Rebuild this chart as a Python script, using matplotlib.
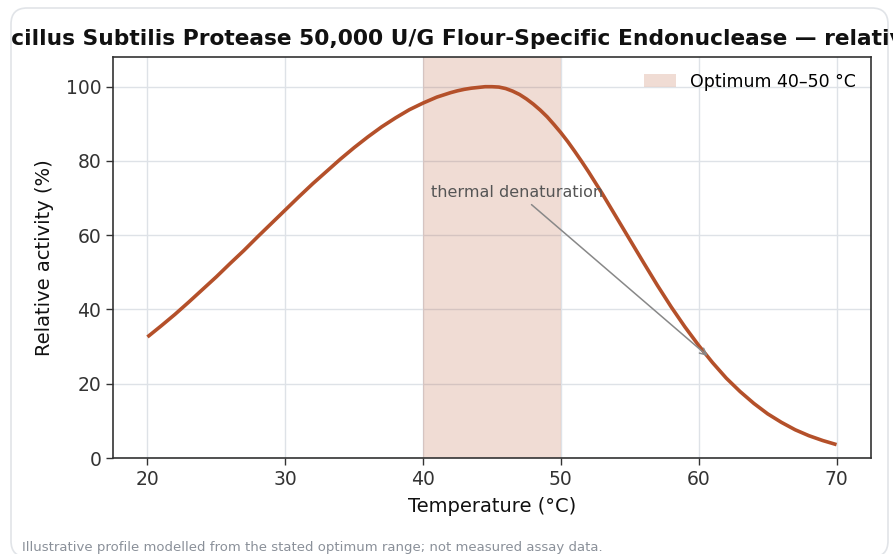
import matplotlib
matplotlib.use("Agg")
import matplotlib.pyplot as plt
from matplotlib.patches import FancyBboxPatch
from matplotlib.transforms import Bbox, TransformedBbox

plt.rcParams['font.family'] = ['DejaVu Sans']

temperature_c = [
    20, 21, 22, 23, 24, 25, 26, 27, 28, 29,
    30, 31, 32, 33, 34, 35, 36, 37, 38, 38.5,
    39, 39.5, 40, 40.5, 41, 41.5, 42, 42.5, 43, 43.5,
    44, 44.5, 45, 45.5, 46, 46.5, 47, 47.5, 48, 48.5,
    49, 49.5, 50, 50.5, 51, 51.5, 52, 53, 54, 55,
    56, 57, 58, 59, 60, 61, 62, 63, 64, 65,
    66, 67, 68, 69, 70,
]
relative_activity = [
    32.6, 35.6, 38.7, 42.0, 45.4, 48.8, 52.4, 55.9, 59.6, 63.2,
    66.8, 70.4, 73.9, 77.2, 80.5, 83.6, 86.5, 89.2, 91.6, 92.7,
    93.8, 94.7, 95.6, 96.4, 97.2, 97.8, 98.4, 98.9, 99.3, 99.6,
    99.8, 100.0, 100.0, 99.9, 99.5, 98.8, 97.9, 96.7, 95.3, 93.7,
    91.9, 89.8, 87.6, 85.2, 82.6, 79.9, 77.1, 71.2, 65.0, 58.8,
    52.6, 46.5, 40.7, 35.3, 30.3, 25.7, 21.5, 17.9, 14.7, 11.9,
    9.6, 7.6, 6.0, 4.7, 3.6,
]
optimum_range = (40, 50)
x_ticks = [20, 30, 40, 50, 60, 70]
y_ticks = [0, 20, 40, 60, 80, 100]

title = "Bacillus Subtilis Protease 50,000 U/G Flour-Specific Endonuclease \u2014 relative activity"
legend_label = "Optimum 40\u201350 \u00b0C"
annotation_text = "thermal denaturation"
annotation_xy = (60.8, 27.0)
annotation_text_xy = (40.6, 71.5)
footnote = "Illustrative profile modelled from the stated optimum range; not measured assay data."

line_color = "#B4502A"
grid_color = "#DEE2E7"
spine_color = "#333333"

W, H = 893, 554
fig = plt.figure(figsize=(W / 100, H / 100), dpi=100)
fig.patch.set_facecolor("white")

# rounded card border (pixel geometry converted to figure fraction)
card_left, card_top, card_right, card_bottom = 11, 8, 888, 557
card = FancyBboxPatch((card_left / W, (H - card_bottom) / H),
                      (card_right - card_left) / W,
                      (card_bottom - card_top) / H,
                      boxstyle="round,pad=0,rounding_size=0.018",
                      transform=fig.transFigure, facecolor="none",
                      edgecolor="#E1E4E8", linewidth=1.2, zorder=-5,
                      mutation_aspect=W / H)
fig.patches.append(card)

ax = fig.add_axes([113 / W, (H - 458) / H, (871 - 113) / W, (458 - 57) / H])
ax.set_facecolor("white")
ax.set_zorder(2)

ax.axvspan(optimum_range[0], optimum_range[1], color=line_color, alpha=0.2,
           linewidth=0, label=legend_label, zorder=1)
ax.plot(temperature_c, relative_activity, color=line_color, linewidth=2.6,
        solid_capstyle="butt", solid_joinstyle="round", zorder=3)

ax.set_xlim(17.5, 72.5)
ax.set_ylim(0, 108)
ax.set_xticks(x_ticks)
ax.set_yticks(y_ticks)
ax.grid(True, color=grid_color, linewidth=1.0, zorder=0)
ax.set_axisbelow(True)

for sp in ax.spines.values():
    sp.set_color(spine_color)
    sp.set_linewidth(1.2)
ax.tick_params(axis="both", labelsize=13.5, colors=spine_color, length=5,
               width=1.0, labelcolor="#333333")

ax.set_xlabel("Temperature (\u00b0C)", fontsize=14, color="#111111", labelpad=6)
ax.set_ylabel("Relative activity (%)", fontsize=14, color="#111111", labelpad=8)

# title: wider than the card; clipped at the card's left edge as in the reference
title_text = fig.text(-20 / W, (H - 45) / H, title, fontsize=15.7,
                      fontweight="bold", color="#111111", ha="left",
                      va="baseline")
title_text.set_clip_box(TransformedBbox(
    Bbox([[(card_left + 1) / W, 0.0], [1.0, 1.0]]), fig.transFigure))
title_text.set_clip_on(True)

ax.annotate(annotation_text, xy=annotation_xy, xytext=annotation_text_xy,
            ha="left", va="center", fontsize=11.5, color="#555555",
            arrowprops=dict(arrowstyle="->", color="#888888", lw=1.1),
            zorder=4)

leg = ax.legend(loc="upper right", frameon=False, fontsize=12.5,
                handlelength=1.8, handleheight=0.8, borderaxespad=0.5)

fig.text(22 / W, (H - 547) / H, footnote, fontsize=9.5, color="#8A9099",
         ha="left", va="center")

fig.savefig("out.png", dpi=100, facecolor="white")
